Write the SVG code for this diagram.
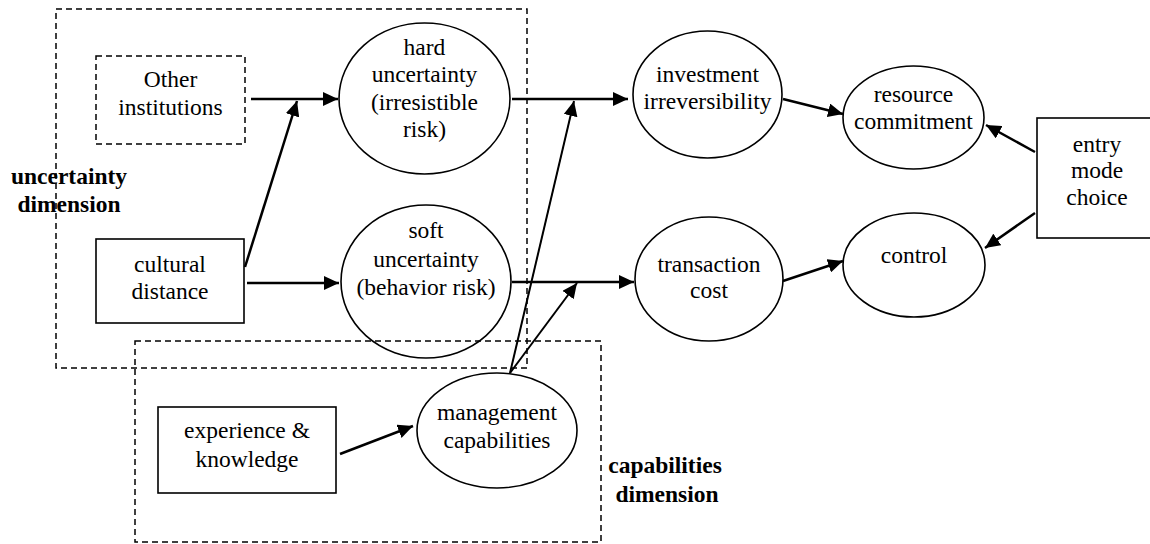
<svg xmlns="http://www.w3.org/2000/svg" width="1150" height="544" viewBox="0 0 1150 544">
  <style>
    .txt { font-family: "Liberation Serif", "Times New Roman", serif; font-size: 23.5px; fill: #000; text-anchor: middle; }
    .lbl { font-family: "Liberation Serif", "Times New Roman", serif; font-size: 23.5px; font-weight: bold; fill: #000; text-anchor: middle; }
    .node { fill: none; stroke: #000; stroke-width: 1.6; }
    .dashed { fill: none; stroke: #000; stroke-width: 1.5; stroke-dasharray: 6 4; }
    .edge { fill: none; stroke: #000; stroke-width: 2.5; marker-end: url(#arrow); }
    .thin { stroke-width: 2; }
  </style>
  <defs>
    <marker id="arrow" markerUnits="userSpaceOnUse" markerWidth="16" markerHeight="14" refX="15" refY="7" orient="auto">
      <path d="M0,0 L15,7 L0,14 z" fill="#000"/>
    </marker>
  </defs>
  <rect width="1150" height="544" fill="#fff"/>

  <!-- dimension frames -->
  <g id="uncertainty-dimension">
    <rect class="dashed" x="56" y="9" width="471" height="359"/>
    <text class="lbl" x="69" y="184">uncertainty</text>
    <text class="lbl" x="69" y="212">dimension</text>
  </g>
  <g id="capabilities-dimension">
    <rect class="dashed" x="135" y="341" width="466" height="201"/>
    <text class="lbl" x="665" y="473">capabilities</text>
    <text class="lbl" x="667" y="502">dimension</text>
  </g>

  <!-- nodes -->
  <g id="other-institutions">
    <rect class="dashed" x="96" y="56" width="149" height="88"/>
    <text class="txt" x="170.5" y="87">Other</text>
    <text class="txt" x="170.5" y="115">institutions</text>
  </g>
  <g id="cultural-distance">
    <rect class="node" x="96" y="239" width="148" height="84"/>
    <text class="txt" x="170" y="272">cultural</text>
    <text class="txt" x="170" y="299">distance</text>
  </g>
  <g id="hard-uncertainty">
    <ellipse class="node" cx="424.5" cy="98.5" rx="85.5" ry="75.5"/>
    <text class="txt" x="424.5" y="55">hard</text>
    <text class="txt" x="424.5" y="82">uncertainty</text>
    <text class="txt" x="424.5" y="110">(irresistible</text>
    <text class="txt" x="424.5" y="137">risk)</text>
  </g>
  <g id="soft-uncertainty">
    <ellipse class="node" cx="426" cy="281.5" rx="85" ry="76.5"/>
    <text class="txt" x="426" y="238">soft</text>
    <text class="txt" x="426" y="267">uncertainty</text>
    <text class="txt" x="426" y="295">(behavior risk)</text>
  </g>
  <g id="investment-irreversibility">
    <ellipse class="node" cx="707.5" cy="94.5" rx="74.5" ry="63.5"/>
    <text class="txt" x="707.5" y="82">investment</text>
    <text class="txt" x="707.5" y="109">irreversibility</text>
  </g>
  <g id="transaction-cost">
    <ellipse class="node" cx="709" cy="279" rx="74" ry="62"/>
    <text class="txt" x="709" y="272">transaction</text>
    <text class="txt" x="709" y="298">cost</text>
  </g>
  <g id="resource-commitment">
    <ellipse class="node" cx="913.5" cy="117.5" rx="70.5" ry="51.5"/>
    <text class="txt" x="913.5" y="102">resource</text>
    <text class="txt" x="913.5" y="129">commitment</text>
  </g>
  <g id="control">
    <ellipse class="node" cx="914" cy="265" rx="71" ry="52"/>
    <text class="txt" x="914" y="263">control</text>
  </g>
  <g id="entry-mode-choice">
    <rect class="node" x="1037" y="118" width="120" height="120"/>
    <text class="txt" x="1097" y="152">entry</text>
    <text class="txt" x="1097" y="178">mode</text>
    <text class="txt" x="1097" y="205">choice</text>
  </g>
  <g id="experience-knowledge">
    <rect class="node" x="158" y="407" width="178" height="86"/>
    <text class="txt" x="247" y="438">experience &amp;</text>
    <text class="txt" x="247" y="467">knowledge</text>
  </g>
  <g id="management-capabilities">
    <ellipse class="node" cx="497" cy="430.5" rx="80" ry="57.5"/>
    <text class="txt" x="497" y="420">management</text>
    <text class="txt" x="497" y="448">capabilities</text>
  </g>

  <!-- connectors -->
  <g id="connectors">
    <line class="edge" x1="251" y1="99" x2="338" y2="99"/>
    <line class="edge" x1="245" y1="267" x2="297" y2="101"/>
    <line class="edge" x1="247" y1="283" x2="339" y2="283"/>
    <line class="edge" x1="512" y1="99" x2="628" y2="99"/>
    <line class="edge" x1="512" y1="282" x2="634" y2="282"/>
    <line class="edge thin" x1="510" y1="373" x2="574" y2="101"/>
    <line class="edge thin" x1="510" y1="373" x2="577" y2="283"/>
    <line class="edge" x1="783" y1="99" x2="843" y2="114"/>
    <line class="edge" x1="783" y1="281" x2="843" y2="261"/>
    <line class="edge" x1="1035" y1="152" x2="986" y2="125"/>
    <line class="edge" x1="1035" y1="213" x2="985" y2="248"/>
    <line class="edge" x1="340" y1="454" x2="413" y2="426"/>
  </g>
</svg>
